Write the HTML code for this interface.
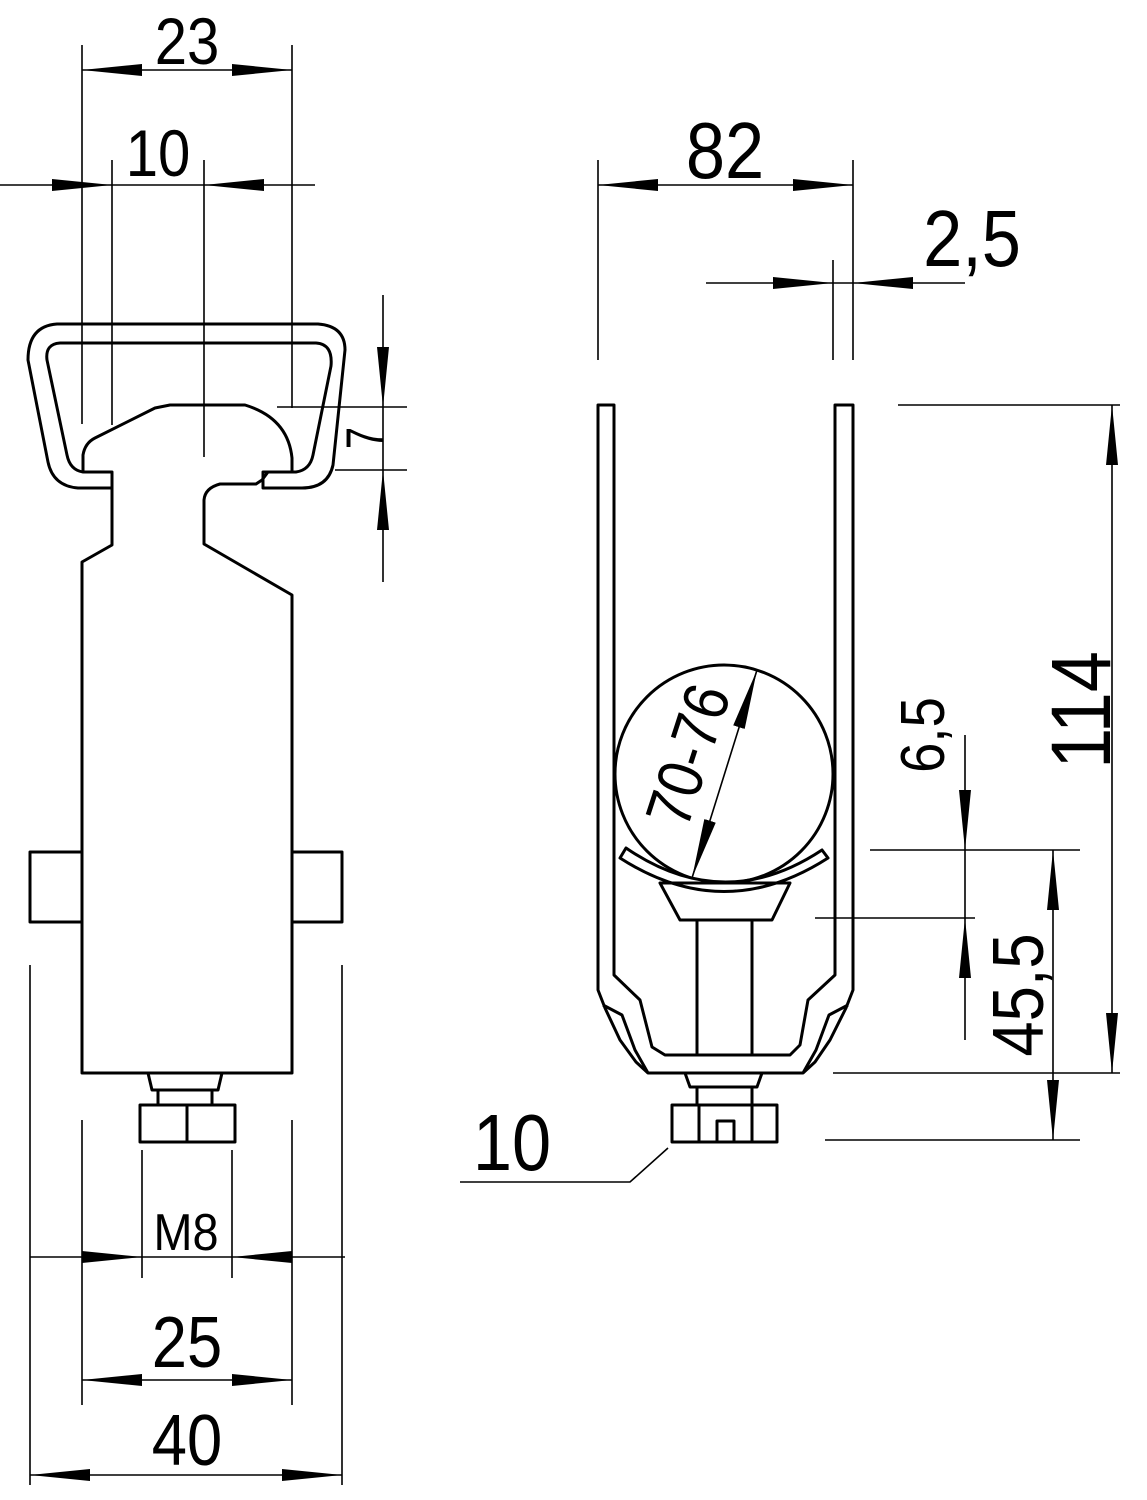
<!DOCTYPE html>
<html><head><meta charset="utf-8"><style>html,body{margin:0;padding:0;background:#fff}svg{display:block}</style></head><body>
<svg width="1147" height="1500" viewBox="0 0 1147 1500" xmlns="http://www.w3.org/2000/svg" font-family="Liberation Sans, sans-serif">
<defs>
<marker id="a" viewBox="0 0 60 12" refX="60" refY="6" markerWidth="60" markerHeight="12" markerUnits="userSpaceOnUse" orient="auto"><path d="M0,0 L60,6 L0,12 Z" fill="#000"/></marker>
</defs>
<g fill="none" stroke="#000" stroke-width="3" stroke-linejoin="round">
<path d="M57,324 L318,324 Q345,326 345,350 L333,465 Q328,488 302,488 L263,488 L263,472 L296,472 Q310,470 313,455 L331,366 Q333,344 316,343 L60,343 Q45,344 47,360 L67,455 Q70,470 83,472 L112,472 L112,488 L78,488 Q53,486 48,462 L28,360 Q28,326 57,324 Z"/>
<path d="M83,472 L83,455 Q85,443 95,438 L155,408 L170,405 L245,405 Q288,418 292,458 L292,472 L268,472 L262,480 L256,484 L220,484 Q205,488 204,500 L204,544 L292,595 L292,1073 L82,1073 L82,562 L112,545 L112,472"/>
<rect x="30" y="852" width="52" height="70"/>
<rect x="292" y="852" width="50" height="70"/>
<path d="M148,1073 L222,1073 L218,1090 L152,1090 Z"/>
<path d="M158,1090 L158,1105 M212,1090 L212,1105"/>
<rect x="140" y="1105" width="95" height="37"/>
<path d="M187,1105 L187,1142"/>
<path d="M598,405 L614,405 L614,975 L640,1000 L652,1047 L665,1055 L790,1055 L800,1045 L808,1000 L835,975 L835,405 L853,405 L853,990 L846,1008 L830,1040 L815,1062 L803,1073 L648,1073 L636,1062 L620,1040 L605,1008 L598,990 Z"/>
<path d="M603,1005 L622,1015 L635,1050 L648,1073 M848,1005 L829,1015 L816,1050 L803,1073"/>
<circle cx="724" cy="774" r="109"/>
<path d="M620,858 L626,848 Q724,915 822,850 L828,858 Q724,925 620,858 Z" fill="#fff"/>
<path d="M660,883 L790,883 L772,920 L680,920 Z"/>
<path d="M697,920 L697,1055 M752,920 L752,1055"/>
<path d="M685,1073 L762,1073 L757,1087 L690,1087 Z"/>
<path d="M697,1087 L697,1105 M752,1087 L752,1105"/>
<rect x="672" y="1105" width="105" height="37"/>
<path d="M699,1105 L699,1142 M752,1105 L752,1142 M717,1142 L717,1121 L734,1121 L734,1142"/>
</g>
<g fill="none" stroke="#000" stroke-width="1.6">
<path d="M82,45 L82,424 M292,45 L292,408"/>
<path d="M82,70 L292,70"/>
<path d="M112,160 L112,425 M204,160 L204,457"/>
<path d="M0,185 L315,185"/>
<path d="M383,295 L383,582 M277,407 L407,407 M335,470 L407,470"/>
<path d="M30,965 L30,1485 M342,965 L342,1485 M82,1120 L82,1405 M292,1120 L292,1405 M142,1150 L142,1278 M232,1150 L232,1278"/>
<path d="M30,1257 L345,1257 M82,1380 L292,1380 M30,1475 L342,1475"/>
<path d="M598,160 L598,360 M853,160 L853,360 M833,260 L833,360 M598,185 L853,185 M706,283 L965,283"/>
<path d="M898,405 L1120,405 M870,850 L1080,850 M815,918 L975,918 M833,1073 L1120,1073 M825,1140 L1080,1140"/>
<path d="M1112,405 L1112,1073 M1053,850 L1053,1140 M965,735 L965,1040"/>
<path d="M668,1148 L630,1182 L460,1182"/>
<path d="M757,670 L692,878"/>
</g>
<g stroke="none">
<line x1="140" y1="70" x2="82" y2="70" stroke="#000" marker-end="url(#a)"/>
<line x1="234" y1="70" x2="292" y2="70" stroke="#000" marker-end="url(#a)"/>
<line x1="52" y1="185" x2="112" y2="185" stroke="#000" marker-end="url(#a)"/>
<line x1="264" y1="185" x2="204" y2="185" stroke="#000" marker-end="url(#a)"/>
<line x1="383" y1="345" x2="383" y2="407" stroke="#000" marker-end="url(#a)"/>
<line x1="383" y1="530" x2="383" y2="470" stroke="#000" marker-end="url(#a)"/>
<line x1="82" y1="1257" x2="142" y2="1257" stroke="#000" marker-end="url(#a)"/>
<line x1="292" y1="1257" x2="232" y2="1257" stroke="#000" marker-end="url(#a)"/>
<line x1="140" y1="1380" x2="82" y2="1380" stroke="#000" marker-end="url(#a)"/>
<line x1="234" y1="1380" x2="292" y2="1380" stroke="#000" marker-end="url(#a)"/>
<line x1="90" y1="1475" x2="30" y2="1475" stroke="#000" marker-end="url(#a)"/>
<line x1="282" y1="1475" x2="342" y2="1475" stroke="#000" marker-end="url(#a)"/>
<line x1="658" y1="185" x2="598" y2="185" stroke="#000" marker-end="url(#a)"/>
<line x1="793" y1="185" x2="853" y2="185" stroke="#000" marker-end="url(#a)"/>
<line x1="773" y1="283" x2="833" y2="283" stroke="#000" marker-end="url(#a)"/>
<line x1="913" y1="283" x2="853" y2="283" stroke="#000" marker-end="url(#a)"/>
<line x1="1112" y1="465" x2="1112" y2="405" stroke="#000" marker-end="url(#a)"/>
<line x1="1112" y1="1013" x2="1112" y2="1073" stroke="#000" marker-end="url(#a)"/>
<line x1="1053" y1="910" x2="1053" y2="850" stroke="#000" marker-end="url(#a)"/>
<line x1="1053" y1="1080" x2="1053" y2="1140" stroke="#000" marker-end="url(#a)"/>
<line x1="965" y1="790" x2="965" y2="850" stroke="#000" marker-end="url(#a)"/>
<line x1="965" y1="978" x2="965" y2="918" stroke="#000" marker-end="url(#a)"/>
<line x1="739" y1="727" x2="757" y2="670" stroke="#000" marker-end="url(#a)"/>
<line x1="710" y1="821" x2="692" y2="878" stroke="#000" marker-end="url(#a)"/>
</g>
<g fill="#000" text-anchor="middle">
<text transform="translate(187,64) scale(0.88,1)" font-size="66">23</text>
<text transform="translate(158,176) scale(0.88,1)" font-size="66">10</text>
<text transform="translate(725,178) scale(0.88,1)" font-size="80">82</text>
<text transform="translate(972,266) scale(0.88,1)" font-size="80">2,5</text>
<text transform="translate(186,1250) scale(0.9,1)" font-size="52">M8</text>
<text transform="translate(187,1367) scale(0.88,1)" font-size="72">25</text>
<text transform="translate(187,1465) scale(0.88,1)" font-size="72">40</text>
<text transform="translate(512,1170) scale(0.88,1)" font-size="80">10</text>
<text transform="translate(383,438) rotate(-90) scale(0.9,1.2)" font-size="44">7</text>
<text transform="translate(1110,710) rotate(-90) scale(0.88,1)" font-size="84">114</text>
<text transform="translate(1043,995) rotate(-90) scale(0.88,1)" font-size="72">45,5</text>
<text transform="translate(944,735) rotate(-90) scale(0.88,1)" font-size="62">6,5</text>
<text transform="translate(709,762) rotate(-72) scale(0.88,1)" font-size="64">70-76</text>
</g>
</svg>
</body></html>
